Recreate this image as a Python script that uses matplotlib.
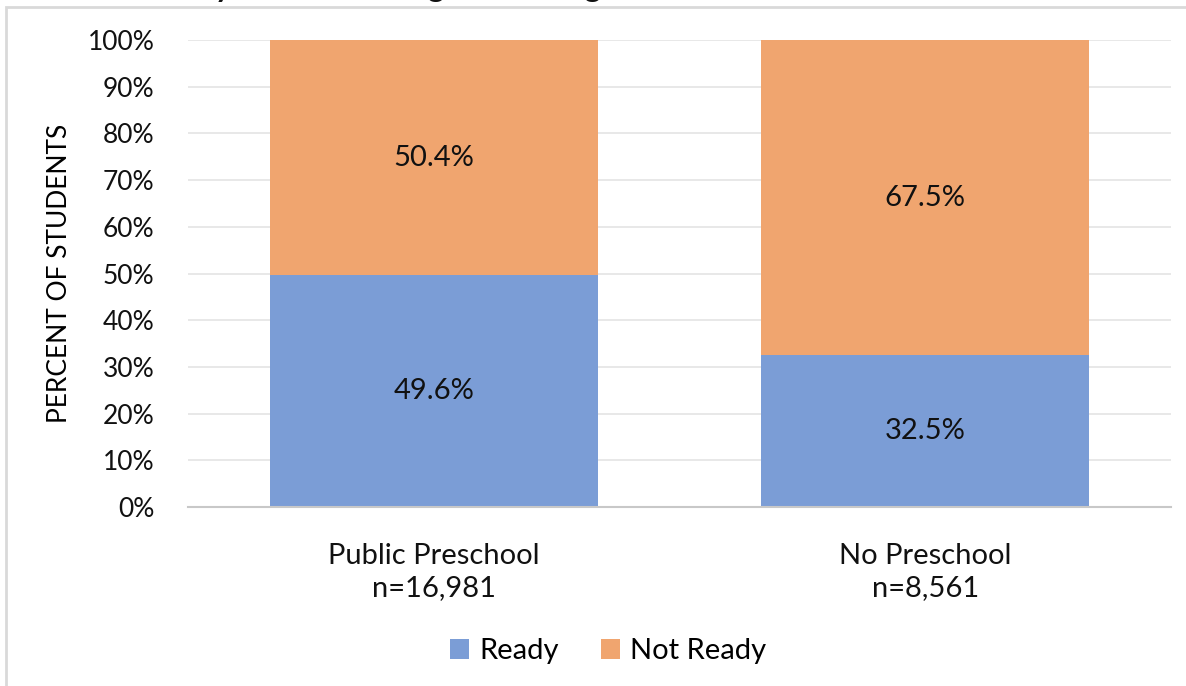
import matplotlib.pyplot as plt
from matplotlib.patches import Rectangle

plt.rcParams['font.family'] = ['Lato', 'DejaVu Sans']

# readiness by preschool setting
groups = ['Public Preschool\nn=16,981', 'No Preschool\nn=8,561']
ready = [49.6, 32.5]
not_ready = [50.4, 67.5]
yticks = [0, 10, 20, 30, 40, 50, 60, 70, 80, 90, 100]

blue = '#7B9DD6'
orange = '#F0A56F'

fig = plt.figure(figsize=(11.86, 6.86), dpi=100)
ax = fig.add_axes([0.1585, 0.2609, 0.8289, 0.6808])

x = range(len(groups))
b1 = ax.bar(x, ready, width=0.667, color=blue, label='Ready', zorder=2)
b2 = ax.bar(x, not_ready, bottom=ready, width=0.667, color=orange,
            label='Not Ready', zorder=2)

for bars, vals, base in [(b1, ready, [0, 0]), (b2, not_ready, ready)]:
    for rect, v, b in zip(bars, vals, base):
        ax.text(rect.get_x() + rect.get_width() / 2, b + v / 2, f'{v:.1f}%',
                ha='center', va='center', fontsize=21, color='#111111')

ax.set_xlim(-0.5, len(groups) - 0.5)
ax.set_ylim(0, 100)
ax.set_yticks(yticks)
ax.set_yticklabels([f'{t}%' for t in yticks], fontsize=19)
ax.set_xticks(list(x))
ax.set_xticklabels(groups, fontsize=21, linespacing=1.3)
ax.tick_params(axis='both', length=0, colors='#111111')
ax.tick_params(axis='y', pad=24)
ax.tick_params(axis='x', pad=26)
ax.yaxis.grid(True, color='#E4E4E4', linewidth=1.2, zorder=0)
ax.set_axisbelow(True)
for s in ['top', 'right', 'left']:
    ax.spines[s].set_visible(False)
ax.spines['bottom'].set_color('#C8C8C8')
ax.spines['bottom'].set_linewidth(1.5)

ax.set_ylabel('PERCENT OF STUDENTS', fontsize=19)
ax.yaxis.set_label_coords(-0.118, 0.5)

fig.legend(loc='center', bbox_to_anchor=(0.513, 0.051), ncol=2, frameon=False,
           fontsize=21, handlelength=0.65, handleheight=0.65, columnspacing=1.45,
           handletextpad=0.35)

# outer chart frame
fig.patches.append(Rectangle((0.005, -0.05), 1.2, 1.04, transform=fig.transFigure,
                             fill=False, edgecolor='#D9D9D9', linewidth=2))

# title sits above the visible area
fig.text(0.045, 0.997, 'Readiness by Preschool Program Setting',
         fontsize=22, fontweight='bold', va='bottom', ha='left', color='#111111')

fig.savefig('out.png', dpi=100)
